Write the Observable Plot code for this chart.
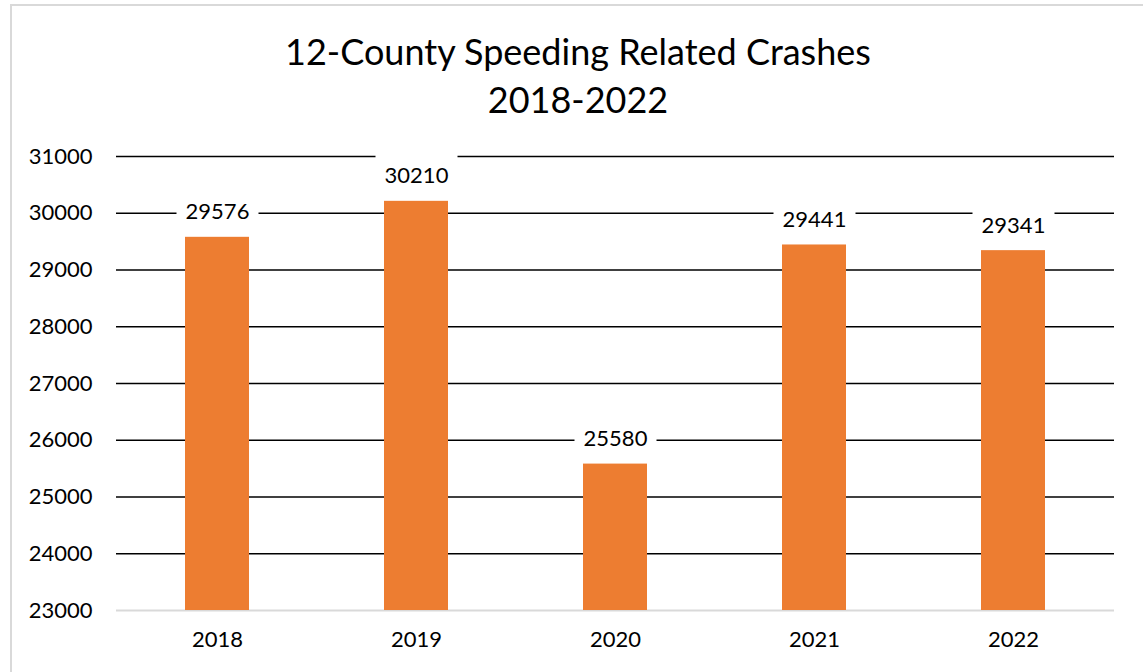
<!DOCTYPE html>
<html>
<head>
<meta charset="utf-8">
<script src="https://cdn.jsdelivr.net/npm/d3@7"></script>
<script src="https://cdn.jsdelivr.net/npm/@observablehq/plot@0.6"></script>
<style>
  html, body { margin: 0; padding: 0; background: #fff; overflow: hidden; width: 1143px; height: 672px; }
  #frame { position: absolute; left: 10px; top: 4px; width: 1160px; height: 700px; border: 2px solid #d9d9d9; box-sizing: border-box; }
  #title { position: absolute; left: 12px; top: 27px; width: 1132px; text-align: center; font-family: Lato, "Open Sans", sans-serif; font-size: 36px; line-height: 48px; color: #000; }
  #chart { position: absolute; left: 12px; top: 124px; }
</style>
</head>
<body>
<div id="frame"></div>
<div id="title">12-County Speeding Related Crashes<br>2018-2022</div>
<div id="chart"></div>
<script>
const years = ["2018", "2019", "2020", "2021", "2022"];
const crashes = [29576, 30210, 25580, 29441, 29341];
const yTicks = [23000, 24000, 25000, 26000, 27000, 28000, 29000, 30000, 31000];

const data = years.map((y, i) => ({year: y, value: crashes[i]}));
const font = "Lato, 'Open Sans', sans-serif";

// white label box behind each value label (cuts the gridlines like the original)
const labelBox = {draw(ctx) { ctx.rect(-41, -22, 82, 44); }};

const plot = Plot.plot({
  width: 1131,
  height: 548,
  marginLeft: 104,
  marginRight: 29,
  marginTop: 32,
  marginBottom: 62,
  style: {fontFamily: font, fontSize: "22px", color: "#000", background: "#fff"},
  x: {domain: years, paddingInner: 0.68, paddingOuter: 0.34, label: null},
  y: {domain: [23000, 31000], label: null},
  marks: [
    Plot.ruleY(yTicks.filter(t => t > 23000), {stroke: "#000", strokeWidth: 1.5}),
    Plot.ruleY([23000], {stroke: "#d9d9d9", strokeWidth: 2}),
    Plot.barY(data, {x: "year", y1: 23000, y2: "value", fill: "#ED7D31"}),
    Plot.dot(data, {x: "year", y: "value", dy: -25, symbol: labelBox, fill: "#fff", stroke: "none"}),
    Plot.text(data, {x: "year", y: "value", text: d => String(d.value), dy: -25, fill: "#000", fontSize: 22}),
    Plot.axisY({ticks: yTicks, tickSize: 0, tickPadding: 24, tickFormat: d => String(d), fontSize: 22}),
    Plot.axisX({tickSize: 0, tickPadding: 21, fontSize: 22})
  ]
});
document.getElementById("chart").appendChild(plot);
</script>
</body>
</html>
